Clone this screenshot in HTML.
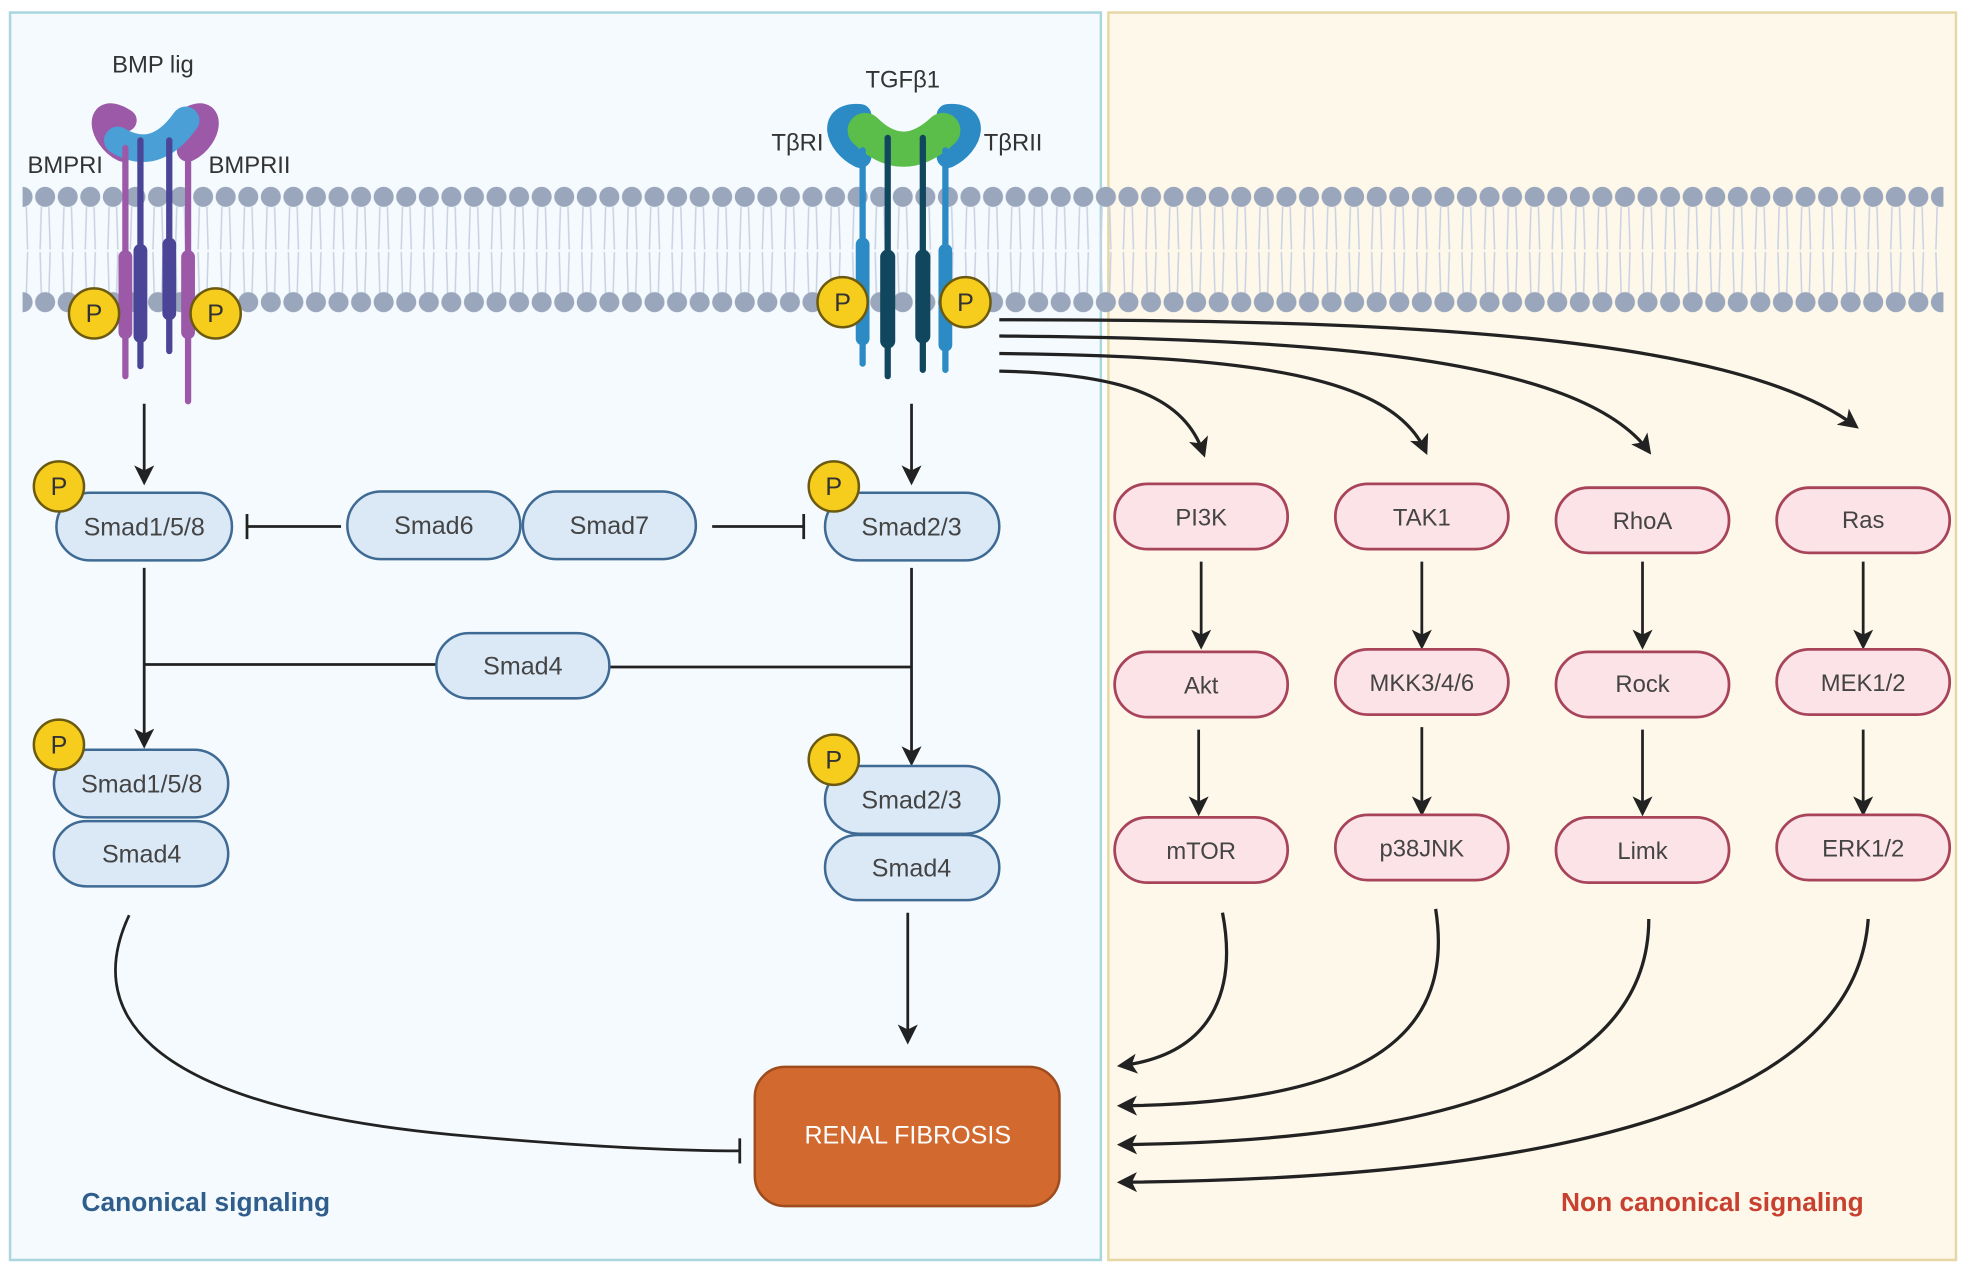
<!DOCTYPE html>
<html><head><meta charset="utf-8"><style>
html,body{margin:0;padding:0;background:#fff;}
svg{display:block;}
text{font-family:"Liberation Sans",sans-serif;}
</style></head><body>
<svg width="1966" height="1270" viewBox="0 0 1568 1013" preserveAspectRatio="none" xmlns="http://www.w3.org/2000/svg">
<defs>
<pattern id="heads" x="9" y="148" width="18" height="18" patternUnits="userSpaceOnUse">
<circle cx="9" cy="9" r="8" fill="#9aa6bc"/>
</pattern>
<pattern id="heads2" x="9" y="232" width="18" height="18" patternUnits="userSpaceOnUse">
<circle cx="9" cy="9" r="8" fill="#9aa6bc"/>
</pattern>
<pattern id="tails" x="9" y="165" width="18" height="70" patternUnits="userSpaceOnUse">
<path d="M6 0 L5 34 M12 0 L13 34 M5 36 L6 70 M13 36 L12 70" stroke="#c9d1e3" stroke-width="1.2" fill="none"/>
</pattern>
<marker id="ah2" viewBox="0 0 10 10" markerWidth="16" markerHeight="16" refX="8" refY="5" orient="auto" markerUnits="userSpaceOnUse">
<path d="M0 0 L10 5 L0 10 L2.5 5 Z" fill="#222"/>
</marker>
</defs>
<rect width="1568" height="1013" fill="#fff"/>
<rect x="8" y="10" width="870" height="995" fill="#f4fafd" stroke="#a9d6df" stroke-width="2"/>
<rect x="884" y="10" width="676" height="995" fill="#fdf8ea" stroke="#e6d8a6" stroke-width="2"/>

<!-- membrane -->
<rect x="18" y="165" width="1532" height="70" fill="url(#tails)"/>
<rect x="18" y="148" width="1532" height="18" fill="url(#heads)"/>
<rect x="18" y="232" width="1532" height="18" fill="url(#heads2)"/>

<!-- BMP receptor -->
<g stroke-linecap="round" fill="none">
<path d="M100 96 C75 80 78 110 98 120" stroke="#9b59a8" stroke-width="18"/>
<path d="M148 96 C172 80 170 110 150 120" stroke="#9b59a8" stroke-width="18"/>
<path d="M94 112 Q124 130 148 96" stroke="#4aa0d6" stroke-width="22"/>
<line x1="100" y1="118" x2="100" y2="300" stroke="#9b59a8" stroke-width="5"/>
<line x1="150" y1="118" x2="150" y2="320" stroke="#9b59a8" stroke-width="5"/>
<line x1="100" y1="205" x2="100" y2="265" stroke="#9b59a8" stroke-width="11"/>
<line x1="150" y1="205" x2="150" y2="265" stroke="#9b59a8" stroke-width="11"/>
<line x1="112" y1="112" x2="112" y2="292" stroke="#4a4596" stroke-width="5"/>
<line x1="135" y1="112" x2="135" y2="280" stroke="#4a4596" stroke-width="5"/>
<line x1="112" y1="200" x2="112" y2="268" stroke="#4a4596" stroke-width="11"/>
<line x1="135" y1="195" x2="135" y2="250" stroke="#4a4596" stroke-width="11"/>
</g>
<!-- TGF receptor -->
<g stroke-linecap="round" fill="none">
<path d="M686 92 C660 90 666 115 686 125" stroke="#2c8bc4" stroke-width="18"/>
<path d="M756 92 C782 90 776 115 756 125" stroke="#2c8bc4" stroke-width="18"/>
<path d="M690 104 Q720 134 752 104" stroke="#5bbd4a" stroke-width="28"/>
<line x1="688" y1="120" x2="688" y2="290" stroke="#2c8bc4" stroke-width="5"/>
<line x1="754" y1="120" x2="754" y2="295" stroke="#2c8bc4" stroke-width="5"/>
<line x1="688" y1="195" x2="688" y2="270" stroke="#2c8bc4" stroke-width="11"/>
<line x1="754" y1="200" x2="754" y2="275" stroke="#2c8bc4" stroke-width="11"/>
<line x1="708" y1="110" x2="708" y2="300" stroke="#10475f" stroke-width="5"/>
<line x1="736" y1="110" x2="736" y2="295" stroke="#10475f" stroke-width="5"/>
<line x1="708" y1="205" x2="708" y2="272" stroke="#10475f" stroke-width="12"/>
<line x1="736" y1="205" x2="736" y2="268" stroke="#10475f" stroke-width="12"/>
</g>

<g font-size="19" fill="#333" text-anchor="middle">
<text x="122" y="58">BMP lig</text>
<text x="52" y="138">BMPRI</text>
<text x="199" y="138">BMPRII</text>
<text x="720" y="70">TGFβ1</text>
<text x="636" y="120">TβRI</text>
<text x="808" y="120">TβRII</text>
</g>

<!-- P circles -->
<g fill="#f6cd1d" stroke="#6b5a10" stroke-width="2">
<circle cx="75" cy="250" r="20"/><circle cx="172" cy="250" r="20"/>
<circle cx="672" cy="241" r="20"/><circle cx="770" cy="241" r="20"/>
</g>

<!-- canonical connectors -->
<g stroke="#222" stroke-width="2.2" fill="none">
<line x1="115" y1="322" x2="115" y2="384" marker-end="url(#ah2)"/>
<line x1="727" y1="322" x2="727" y2="384" marker-end="url(#ah2)"/>
<line x1="197" y1="420" x2="272" y2="420"/><line x1="197" y1="410" x2="197" y2="430"/>
<line x1="568" y1="420" x2="641" y2="420"/><line x1="641" y1="410" x2="641" y2="430"/>
<line x1="115" y1="453" x2="115" y2="594" marker-end="url(#ah2)"/>
<line x1="115" y1="530" x2="348" y2="530"/>
<line x1="486" y1="532" x2="727" y2="532"/>
<line x1="727" y1="453" x2="727" y2="608" marker-end="url(#ah2)"/>
<line x1="724" y1="728" x2="724" y2="830" marker-end="url(#ah2)"/>
<path d="M103 730 C70 800 100 880 360 905 C470 915 540 918 590 918"/>
<line x1="590" y1="908" x2="590" y2="928"/>
</g>

<!-- blue boxes -->
<g fill="#dbe9f7" stroke="#3f6a94" stroke-width="2">
<rect x="45" y="393" width="140" height="54" rx="27"/>
<rect x="277" y="392" width="138" height="54" rx="27"/>
<rect x="417" y="392" width="138" height="54" rx="27"/>
<rect x="658" y="393" width="139" height="54" rx="27"/>
<rect x="348" y="505" width="138" height="52" rx="26"/>
<rect x="43" y="598" width="139" height="54" rx="27"/>
<rect x="43" y="655" width="139" height="52" rx="26"/>
<rect x="658" y="611" width="139" height="54" rx="27"/>
<rect x="658" y="666" width="139" height="52" rx="26"/>
</g>
<g font-size="20" fill="#444" text-anchor="middle">
<text x="115" y="427">Smad1/5/8</text>
<text x="346" y="426">Smad6</text>
<text x="486" y="426">Smad7</text>
<text x="727" y="427">Smad2/3</text>
<text x="417" y="538">Smad4</text>
<text x="113" y="632">Smad1/5/8</text>
<text x="113" y="688">Smad4</text>
<text x="727" y="645">Smad2/3</text>
<text x="727" y="699">Smad4</text>
</g>
<g fill="#f6cd1d" stroke="#6b5a10" stroke-width="2">
<circle cx="47" cy="388" r="20"/><circle cx="665" cy="388" r="20"/>
<circle cx="47" cy="594" r="20"/><circle cx="665" cy="606" r="20"/>
</g>
<g font-size="20" fill="#333" text-anchor="middle">
<text x="75" y="257">P</text><text x="172" y="257">P</text>
<text x="672" y="248">P</text><text x="770" y="248">P</text>
<text x="47" y="395">P</text><text x="665" y="395">P</text>
<text x="47" y="601">P</text><text x="665" y="613">P</text>
</g>

<rect x="602" y="851" width="243" height="111" rx="24" fill="#d2692f" stroke="#9e4c1d" stroke-width="2"/>
<text x="724" y="912" font-size="20" fill="#fff" text-anchor="middle">RENAL FIBROSIS</text>
<text x="65" y="966" font-size="21" font-weight="bold" fill="#2f5d8c">Canonical signaling</text>
<text x="1245" y="966" font-size="21" font-weight="bold" fill="#c8402f">Non canonical signaling</text>

<!-- non-canonical connectors -->
<g stroke="#222" stroke-width="2.6" fill="none">
<path d="M797 255 C1100 255 1380 265 1480 340" marker-end="url(#ah2)"/>
<path d="M797 268 C1050 270 1260 285 1315 360" marker-end="url(#ah2)"/>
<path d="M797 282 C1000 284 1110 300 1137 360" marker-end="url(#ah2)"/>
<path d="M797 296 C900 298 945 318 960 362" marker-end="url(#ah2)"/>
<path d="M975 728 C985 780 975 840 894 850" marker-end="url(#ah2)"/>
<path d="M1145 725 C1160 820 1100 880 894 882" marker-end="url(#ah2)"/>
<path d="M1315 733 C1315 860 1150 910 894 913" marker-end="url(#ah2)"/>
<path d="M1490 733 C1480 880 1250 940 894 943" marker-end="url(#ah2)"/>
<g stroke-width="2.2">
<line x1="958" y1="448" x2="958" y2="515" marker-end="url(#ah2)"/>
<line x1="1134" y1="448" x2="1134" y2="515" marker-end="url(#ah2)"/>
<line x1="1310" y1="448" x2="1310" y2="515" marker-end="url(#ah2)"/>
<line x1="1486" y1="448" x2="1486" y2="515" marker-end="url(#ah2)"/>
<line x1="956" y1="582" x2="956" y2="648" marker-end="url(#ah2)"/>
<line x1="1134" y1="580" x2="1134" y2="648" marker-end="url(#ah2)"/>
<line x1="1310" y1="582" x2="1310" y2="648" marker-end="url(#ah2)"/>
<line x1="1486" y1="582" x2="1486" y2="648" marker-end="url(#ah2)"/>
</g>
</g>
<g fill="#fbe3e8" stroke="#a8445a" stroke-width="2.2">
<rect x="889" y="386" width="138" height="52" rx="26"/>
<rect x="1065" y="386" width="138" height="52" rx="26"/>
<rect x="1241" y="389" width="138" height="52" rx="26"/>
<rect x="1417" y="389" width="138" height="52" rx="26"/>
<rect x="889" y="520" width="138" height="52" rx="26"/>
<rect x="1065" y="518" width="138" height="52" rx="26"/>
<rect x="1241" y="520" width="138" height="52" rx="26"/>
<rect x="1417" y="518" width="138" height="52" rx="26"/>
<rect x="889" y="652" width="138" height="52" rx="26"/>
<rect x="1065" y="650" width="138" height="52" rx="26"/>
<rect x="1241" y="652" width="138" height="52" rx="26"/>
<rect x="1417" y="650" width="138" height="52" rx="26"/>
</g>
<g font-size="19" fill="#444" text-anchor="middle">
<text x="958" y="419">PI3K</text><text x="1134" y="419">TAK1</text>
<text x="1310" y="422">RhoA</text><text x="1486" y="421">Ras</text>
<text x="958" y="553">Akt</text><text x="1134" y="551">MKK3/4/6</text>
<text x="1310" y="552">Rock</text><text x="1486" y="551">MEK1/2</text>
<text x="958" y="685">mTOR</text><text x="1134" y="683">p38JNK</text>
<text x="1310" y="685">Limk</text><text x="1486" y="683">ERK1/2</text>
</g>
</svg>
</body></html>
